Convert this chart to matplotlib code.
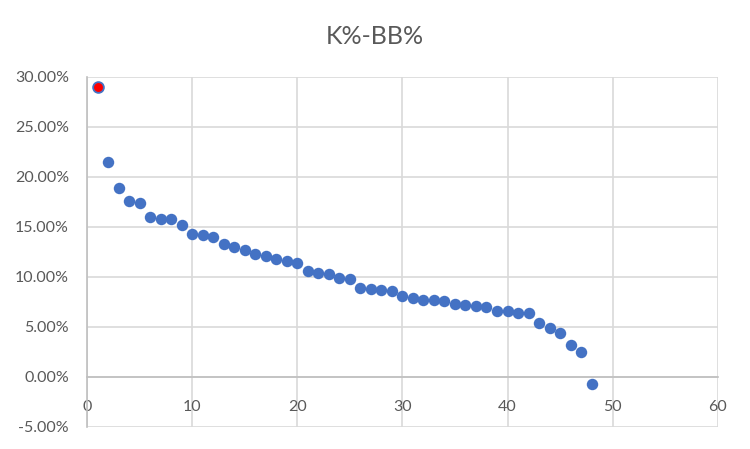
import numpy as np
import matplotlib.pyplot as plt
from matplotlib.ticker import FuncFormatter

plt.rcParams['font.family'] = ['Lato', 'DejaVu Sans']

# data (K%-BB%, in percent)
x = np.arange(1, 49)
k_bb = [29.0, 21.5, 18.9, 17.6, 17.4, 16.0, 15.8, 15.8, 15.2, 14.3,
        14.2, 14.0, 13.3, 13.0, 12.7, 12.3, 12.1, 11.8, 11.6, 11.4,
        10.6, 10.4, 10.3, 9.9, 9.8, 8.9, 8.8, 8.7, 8.6, 8.1,
        7.9, 7.7, 7.7, 7.6, 7.3, 7.2, 7.1, 7.0, 6.6, 6.6,
        6.4, 6.4, 5.4, 4.9, 4.4, 3.2, 2.5, -0.7]
y = np.array(k_bb) / 100

blue = "#4472C4"
grid_col = "#d9d9d9"
text_col = "#595959"

fig = plt.figure(figsize=(7.5, 4.49), dpi=100)
ax = fig.add_axes([0.116, 0.0497, 0.841, 0.7795])

ax.scatter(x[1:], y[1:], s=68, color=blue, zorder=3, linewidths=0)
ax.scatter(x[:1], y[:1], s=60, facecolor="red", edgecolor=blue,
           linewidths=1.3, zorder=4)

ax.set_xlim(0, 60)
ax.set_ylim(-0.05, 0.30)
ax.set_xticks(np.arange(0, 61, 10))
ax.set_yticks(np.arange(-0.05, 0.301, 0.05))
ax.yaxis.set_major_formatter(FuncFormatter(lambda v, p: "{:.2f}%".format(v * 100)))

ax.grid(True, color=grid_col, linewidth=1.2, zorder=0)
ax.set_axisbelow(True)

for side in ["top", "right"]:
    ax.spines[side].set_visible(False)
ax.spines["bottom"].set_position(("data", 0))
ax.spines["bottom"].set_color("#bfbfbf")
ax.spines["bottom"].set_linewidth(1.2)
ax.spines["left"].set_color("#bfbfbf")
ax.spines["left"].set_linewidth(1.2)

ax.tick_params(axis="both", length=0, labelsize=11.5, labelcolor=text_col)
ax.tick_params(axis="x", pad=17)
ax.tick_params(axis="y", pad=13)

fig.text(0.5, 0.918, "K%-BB%", ha="center", va="center",
         fontsize=18, color=text_col)

plt.savefig("out.png", dpi=100)
plt.close()
